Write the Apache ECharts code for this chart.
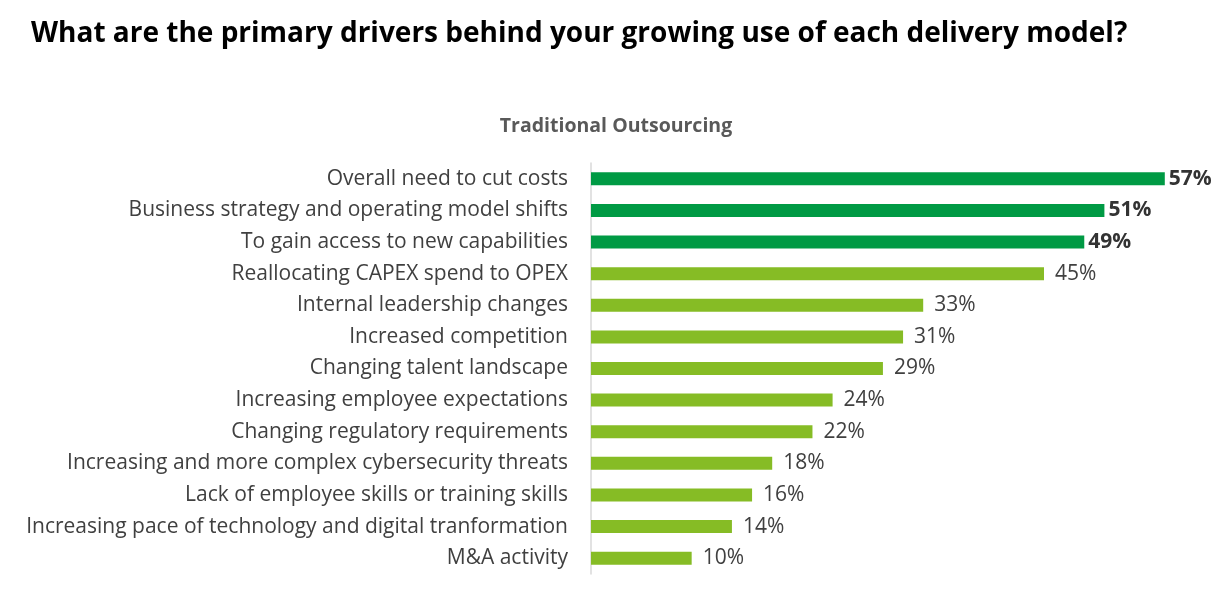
<!DOCTYPE html>
<html><head><meta charset="utf-8">
<script src="https://cdn.jsdelivr.net/npm/echarts@6/dist/echarts.min.js"></script>
<style>html,body{margin:0;padding:0;background:#fff}#c{width:1225px;height:602px}</style>
</head><body><div id="c"></div>
<script>
const categories = [
  "Overall need to cut costs",
  "Business strategy and operating model shifts",
  "To gain access to new capabilities",
  "Reallocating CAPEX spend to OPEX",
  "Internal leadership changes",
  "Increased competition",
  "Changing talent landscape",
  "Increasing employee expectations",
  "Changing regulatory requirements",
  "Increasing and more complex cybersecurity threats",
  "Lack of employee skills or training skills",
  "Increasing pace of technology and digital tranformation",
  "M&A activity"
];
const values = [57, 51, 49, 45, 33, 31, 29, 24, 22, 18, 16, 14, 10];
const topCount = 3;
const darkGreen = "#009A44", lightGreen = "#86BC25";

const chart = echarts.init(document.getElementById('c'));
chart.setOption({
  animation: false,
  title: [
    {text: "What are the primary drivers behind your growing use of each delivery model?", left: 26, top: 15,
     textStyle: {fontFamily: "Open Sans", fontWeight: "bold", fontSize: 28, color: "#000"}},
    {text: "Traditional Outsourcing", left: 611, top: 111, textAlign: "center",
     textStyle: {fontFamily: "Open Sans", fontWeight: "bold", fontSize: 19.5, color: "#595959"}}
  ],
  grid: {left: 591, right: 30, top: 163, bottom: 28, containLabel: false},
  xAxis: {type: "value", min: 0, max: 60, show: false},
  yAxis: {
    type: "category", data: categories, inverse: true,
    axisLine: {show: true, lineStyle: {color: "#d9d9d9", width: 1.5}},
    axisTick: {show: false},
    axisLabel: {margin: 23, fontFamily: "Open Sans", fontSize: 21, color: "#404040"}
  },
  series: [{
    type: "bar", barWidth: 13,
    data: values.map((v, i) => ({value: v, itemStyle: {color: i < topCount ? darkGreen : lightGreen},
      label: {fontWeight: i < topCount ? "bold" : "normal", color: i < topCount ? "#333" : "#404040",
              distance: i < topCount ? 4 : 11}})),
    label: {show: true, position: "right", formatter: "{c}%", fontFamily: "Open Sans", fontSize: 21}
  }]
});
</script></body></html>
